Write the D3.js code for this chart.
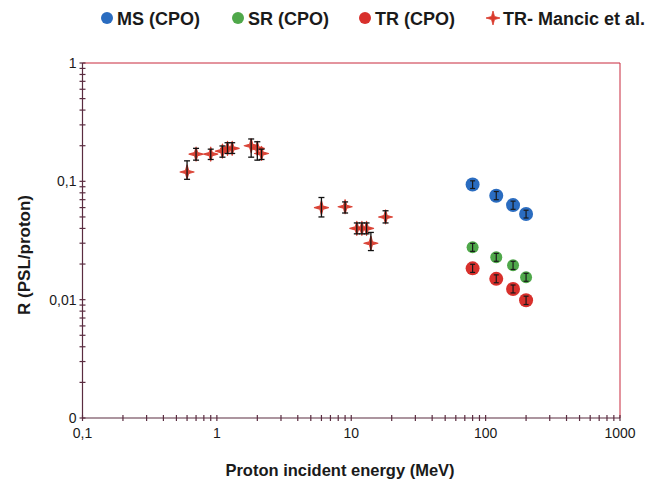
<!DOCTYPE html>
<html>
<head>
<meta charset="utf-8">
<script src="https://cdn.jsdelivr.net/npm/d3@7"></script>
<style>
  html, body { margin: 0; padding: 0; background: #fff; }
  svg { display: block; font-family: "Liberation Sans", Arial, sans-serif; }
</style>
</head>
<body>
<svg id="chart" width="647" height="482"></svg>
<script>
// ---- Data ----
const mancicE  = [0.6, 0.7, 0.9, 1.1, 1.2, 1.3, 1.8, 2.0, 2.15, 6, 9, 11, 12, 13, 14, 18];
const mancicR  = [0.12, 0.17, 0.17, 0.18, 0.19, 0.19, 0.20, 0.19, 0.172, 0.060, 0.061, 0.040, 0.040, 0.040, 0.030, 0.050];
const mancicLo = [0.104, 0.151, 0.153, 0.160, 0.172, 0.172, 0.160, 0.151, 0.153, 0.050, 0.054, 0.036, 0.036, 0.036, 0.026, 0.0445];
const mancicHi = [0.149, 0.190, 0.187, 0.199, 0.212, 0.212, 0.228, 0.216, 0.187, 0.073, 0.067, 0.0445, 0.0445, 0.0445, 0.037, 0.0564];

const cpoE   = [80, 120, 160, 200];
const msR    = [0.094, 0.0756, 0.063, 0.053];
const msLo   = [0.087, 0.070, 0.058, 0.049];
const msHi   = [0.101, 0.082, 0.068, 0.057];
const srR    = [0.0277, 0.0228, 0.0195, 0.0155];
const srLo   = [0.0256, 0.0211, 0.0180, 0.0143];
const srHi   = [0.0299, 0.0246, 0.0211, 0.0167];
const trR    = [0.0184, 0.0150, 0.0123, 0.0099];
const trLo   = [0.0170, 0.0139, 0.0114, 0.0091];
const trHi   = [0.0199, 0.0162, 0.0133, 0.0107];

const xTickVals   = [0.1, 1, 10, 100, 1000];
const xTickLabels = ["0,1", "1", "10", "100", "1000"];
const yTickVals   = [0.001, 0.01, 0.1, 1];
const yTickLabels = ["0", "0,01", "0,1", "1"];

const legendLabels = ["MS (CPO)", "SR (CPO)", "TR (CPO)", "TR- Mancic et al."];

// ---- Styles ----
const colBlue = "#2a6cc0", colGreen = "#4fa84a", colRed = "#d8302c", colPlus = "#d93a2c";
const axisCol = "#5a2c40", frameCol = "#c8283c", textCol = "#1a1a1a";

const svg = d3.select("#chart");
const x = d3.scaleLog().domain([0.1, 1000]).range([82.5, 620]);
const y = d3.scaleLog().domain([0.001, 1]).range([418, 63]);

// frame top/right (red)
svg.append("line").attr("x1", x(0.1)).attr("x2", x(1000)).attr("y1", y(1)).attr("y2", y(1))
  .attr("stroke", frameCol).attr("stroke-width", 1);
svg.append("line").attr("x1", x(1000)).attr("x2", x(1000)).attr("y1", y(1)).attr("y2", y(0.001))
  .attr("stroke", frameCol).attr("stroke-width", 1);

// minor tick values
function logTicks(a, b) {
  const out = [];
  for (let d = a; d < b * 1.0001; d *= 10) {
    for (let k = 1; k <= 9; k++) { const v = d * k; if (v <= b * 1.0001) out.push(v); }
  }
  return out;
}
const xAll = logTicks(0.1, 1000);
const yAll = logTicks(0.001, 1);

// X axis
const gx = svg.append("g");
gx.append("line").attr("x1", x(0.1)).attr("x2", x(1000)).attr("y1", y(0.001)).attr("y2", y(0.001))
  .attr("stroke", axisCol).attr("stroke-width", 1.2);
gx.selectAll("line.t").data(xAll).join("line").attr("class", "t")
  .attr("x1", d => x(d)).attr("x2", d => x(d))
  .attr("y1", y(0.001) - 3).attr("y2", y(0.001) + 3)
  .attr("stroke", axisCol).attr("stroke-width", 1.2);
gx.selectAll("text").data(xTickVals).join("text")
  .attr("x", d => x(d)).attr("y", y(0.001) + 20)
  .attr("text-anchor", "middle").attr("font-size", 14).attr("fill", textCol)
  .text((d, i) => xTickLabels[i]);

// Y axis
const gy = svg.append("g");
gy.append("line").attr("x1", x(0.1)).attr("x2", x(0.1)).attr("y1", y(1)).attr("y2", y(0.001))
  .attr("stroke", axisCol).attr("stroke-width", 1.2);
gy.selectAll("line.t").data(yAll).join("line").attr("class", "t")
  .attr("x1", x(0.1) - 3).attr("x2", x(0.1) + 3)
  .attr("y1", d => y(d)).attr("y2", d => y(d))
  .attr("stroke", axisCol).attr("stroke-width", 1.2);
gy.selectAll("text").data(yTickVals).join("text")
  .attr("x", x(0.1) - 6).attr("y", d => y(d) + 5)
  .attr("text-anchor", "end").attr("font-size", 14).attr("fill", textCol)
  .text((d, i) => yTickLabels[i]);

// Axis titles
svg.append("text").attr("x", 340).attr("y", 476).attr("text-anchor", "middle")
  .attr("font-size", 16.5).attr("font-weight", "bold").attr("fill", textCol)
  .text("Proton incident energy (MeV)");
svg.append("text").attr("transform", "translate(30,255) rotate(-90)").attr("text-anchor", "middle")
  .attr("font-size", 17).attr("font-weight", "bold").attr("fill", textCol)
  .text("R (PSL/proton)");

// error bar helper
function errBars(g, xs, lo, hi, cap, col, w) {
  const grp = g.append("g").attr("stroke", col).attr("stroke-width", w);
  xs.forEach((e, i) => {
    grp.append("line").attr("x1", x(e)).attr("x2", x(e)).attr("y1", y(lo[i])).attr("y2", y(hi[i]));
    grp.append("line").attr("x1", x(e) - cap).attr("x2", x(e) + cap).attr("y1", y(lo[i])).attr("y2", y(lo[i]));
    grp.append("line").attr("x1", x(e) - cap).attr("x2", x(e) + cap).attr("y1", y(hi[i])).attr("y2", y(hi[i]));
  });
}

// Mancic: red plus markers
const plusPath = "M-7,0 L-1.5,-1.5 L0,-7 L1.5,-1.5 L7,0 L1.5,1.5 L0,7 L-1.5,1.5 Z";
const gm = svg.append("g");
gm.selectAll("path").data(mancicE).join("path")
  .attr("d", plusPath)
  .attr("transform", (d, i) => `translate(${x(d)},${y(mancicR[i])})`)
  .attr("fill", colPlus).attr("stroke", colPlus).attr("stroke-width", 1.2).attr("stroke-linejoin", "round")
  .attr("opacity", 0.95);
errBars(gm, mancicE, mancicLo, mancicHi, 3, "#111", 1.3);

// CPO circles
function cpoSeries(vals, lo, hi, col, r) {
  const g = svg.append("g");
  g.selectAll("circle").data(cpoE).join("circle")
    .attr("cx", d => x(d)).attr("cy", (d, i) => y(vals[i])).attr("r", r)
    .attr("fill", col);
  errBars(g, cpoE, lo, hi, 2.5, "#1a1a1a", 1.2);
}
cpoSeries(msR, msLo, msHi, colBlue, 7);
cpoSeries(srR, srLo, srHi, colGreen, 6);
cpoSeries(trR, trLo, trHi, colRed, 7);

// Legend
const legX = [107, 238, 365, 493];
const legCol = [colBlue, colGreen, colRed, colPlus];
const lg = svg.append("g");
legendLabels.forEach((lab, i) => {
  if (i < 3) {
    lg.append("circle").attr("cx", legX[i]).attr("cy", 18).attr("r", 6).attr("fill", legCol[i]);
  } else {
    lg.append("path").attr("d", plusPath).attr("transform", `translate(${legX[i]},18)`)
      .attr("fill", colPlus).attr("stroke", colPlus).attr("stroke-width", 0.8);
  }
  lg.append("text").attr("x", legX[i] + 10).attr("y", 24.5)
    .attr("font-size", 18).attr("font-weight", "bold").attr("fill", textCol)
    .text(lab);
});
</script>
</body>
</html>
